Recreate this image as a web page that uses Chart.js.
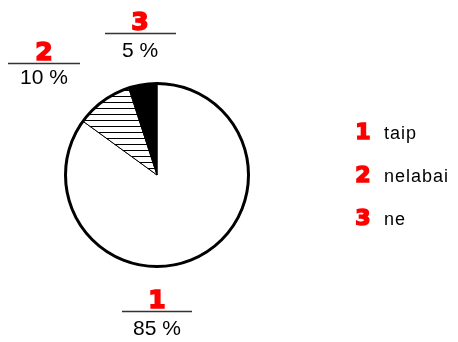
<!DOCTYPE html>
<html>
<head>
<meta charset="utf-8">
<script src="https://cdn.jsdelivr.net/npm/chart.js@4/dist/chart.umd.min.js"></script>
<style>
  html, body { margin: 0; padding: 0; background: #fff; }
  #wrap { width: 458px; height: 342px; }
</style>
</head>
<body>
<div id="wrap"><canvas id="c" width="458" height="342"></canvas></div>
<script>
// Answer categories, their share in percent, and the numbered keys
const categories = ['taip', 'nelabai', 'ne'];
const shares = [85, 10, 5];
const keys = ['1', '2', '3'];

// Horizontal line hatch for the middle slice
function hatch() {
  const p = document.createElement('canvas');
  p.width = 8; p.height = 6;
  const g = p.getContext('2d');
  g.fillStyle = '#fff';
  g.fillRect(0, 0, 8, 6);
  g.fillStyle = '#000';
  g.fillRect(0, 0, 8, 1);
  return g.createPattern(p, 'repeat');
}

const ctx = document.getElementById('c').getContext('2d');
const fills = ['#ffffff', hatch(), '#000000'];

// Label blocks: red key above a rule, percentage below it
const labelBlocks = [
  { x: 157, keyBase: 308, rule: 311.5, valBase: 335, lineFrom: 122, lineTo: 192 },
  { x: 44, keyBase: 60, rule: 63.5, valBase: 84, lineFrom: 8, lineTo: 80 },
  { x: 140, keyBase: 30, rule: 33.5, valBase: 57, lineFrom: 105, lineTo: 176 }
];

// heavy red key numeral
function keyText(c, txt, x, y, size) {
  c.font = 'bold ' + size + 'px "DejaVu Sans"';
  c.fillStyle = '#ff0000';
  c.strokeStyle = '#ff0000';
  c.lineWidth = 1.6;
  c.lineJoin = 'miter';
  c.fillText(txt, x, y);
  c.strokeText(txt, x, y);
}

const decor = {
  id: 'decor',
  afterDatasetsDraw(chart) {
    const c = chart.ctx;
    const arc = chart.getDatasetMeta(0).data[0];
    // heavy outer rim
    c.save();
    c.beginPath();
    c.arc(arc.x, arc.y, arc.outerRadius, 0, Math.PI * 2);
    c.lineWidth = 3;
    c.strokeStyle = '#000';
    c.stroke();
    c.restore();
  },
  afterDraw(chart) {
    const c = chart.ctx;
    const ds = chart.data.datasets[0];
    c.save();
    c.textAlign = 'center';
    c.textBaseline = 'alphabetic';
    labelBlocks.forEach((b, i) => {
      keyText(c, keys[i], b.x, b.keyBase, 25);
      c.strokeStyle = '#333';
      c.lineWidth = 1.5;
      c.beginPath();
      c.moveTo(b.lineFrom, b.rule);
      c.lineTo(b.lineTo, b.rule);
      c.stroke();
      c.fillStyle = '#000';
      c.font = '21px "Liberation Sans"';
      c.fillText(ds.data[i] + ' %', b.x, b.valBase);
    });
    // key list on the right
    chart.data.labels.forEach((lab, i) => {
      const y = 139 + i * 43;
      c.textAlign = 'center';
      c.letterSpacing = '0px';
      keyText(c, keys[i], 363, y, 22);
      c.textAlign = 'left';
      c.fillStyle = '#000';
      c.font = '18px "Liberation Sans"';
      c.letterSpacing = '1px';
      c.fillText(lab, 384, y);
    });
    c.restore();
  }
};

new Chart(ctx, {
  type: 'pie',
  data: {
    labels: categories,
    datasets: [{
      data: shares,
      backgroundColor: fills,
      borderColor: '#000',
      borderWidth: 1,
      borderAlign: 'center'
    }]
  },
  options: {
    responsive: false,
    animation: false,
    rotation: 0,
    layout: { padding: { left: 65, right: 209, top: 83, bottom: 75 } },
    plugins: {
      legend: { display: false },
      tooltip: { enabled: false }
    }
  },
  plugins: [decor]
});
</script>
</body>
</html>
